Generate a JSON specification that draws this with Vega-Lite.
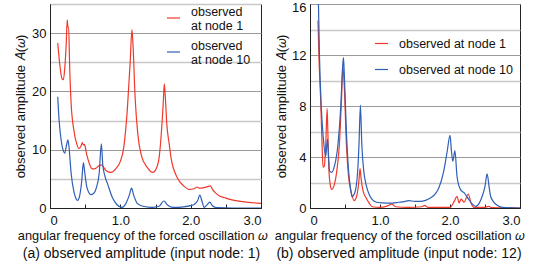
{
  "$schema": "https://vega.github.io/schema/vega-lite/v6.json",
  "padding": {"left": 14, "top": 1, "right": 0, "bottom": 0},
  "config": {
    "font": "Liberation Sans",
    "view": {"stroke": "#222", "strokeWidth": 1},
    "axis": {"labelFont": "Liberation Sans", "titleFont": "Liberation Sans", "labelFontSize": 13, "titleFontSize": 13, "titleFontWeight": "normal", "labelColor": "#111", "titleColor": "#111", "domainColor": "#222"},
    "legend": {"labelFont": "Liberation Sans", "labelFontSize": 12.5, "labelColor": "#111"},
    "title": {"font": "Liberation Sans", "fontSize": 14, "fontWeight": "normal", "color": "#111"}
  },
  "datasets": {
    "a": [
      {"s": "n1", "w": 0.11, "A": 28.3}, {"s": "n1", "w": 0.14, "A": 24.5}, {"s": "n1", "w": 0.17, "A": 22.2}, {"s": "n1", "w": 0.19, "A": 22.0}, {"s": "n1", "w": 0.21, "A": 24.0}, {"s": "n1", "w": 0.23, "A": 28.0}, {"s": "n1", "w": 0.245, "A": 32.3}, {"s": "n1", "w": 0.255, "A": 31.0}, {"s": "n1", "w": 0.265, "A": 31.0}, {"s": "n1", "w": 0.28, "A": 24.0}, {"s": "n1", "w": 0.3, "A": 18.0}, {"s": "n1", "w": 0.34, "A": 13.3}, {"s": "n1", "w": 0.38, "A": 11.0}, {"s": "n1", "w": 0.41, "A": 10.2}, {"s": "n1", "w": 0.44, "A": 10.6}, {"s": "n1", "w": 0.46, "A": 11.2}, {"s": "n1", "w": 0.475, "A": 10.8}, {"s": "n1", "w": 0.49, "A": 10.9}, {"s": "n1", "w": 0.52, "A": 9.3}, {"s": "n1", "w": 0.56, "A": 7.6}, {"s": "n1", "w": 0.6, "A": 6.7}, {"s": "n1", "w": 0.65, "A": 6.8}, {"s": "n1", "w": 0.7, "A": 7.3}, {"s": "n1", "w": 0.73, "A": 7.4}, {"s": "n1", "w": 0.76, "A": 7.0}, {"s": "n1", "w": 0.8, "A": 6.4}, {"s": "n1", "w": 0.865, "A": 6.1}, {"s": "n1", "w": 0.94, "A": 6.8}, {"s": "n1", "w": 1.0, "A": 8.0}, {"s": "n1", "w": 1.05, "A": 10.5}, {"s": "n1", "w": 1.1, "A": 17.0}, {"s": "n1", "w": 1.14, "A": 25.0}, {"s": "n1", "w": 1.165, "A": 30.6}, {"s": "n1", "w": 1.18, "A": 28.0}, {"s": "n1", "w": 1.21, "A": 19.0}, {"s": "n1", "w": 1.25, "A": 12.5}, {"s": "n1", "w": 1.3, "A": 9.0}, {"s": "n1", "w": 1.38, "A": 7.0}, {"s": "n1", "w": 1.46, "A": 6.1}, {"s": "n1", "w": 1.5, "A": 6.5}, {"s": "n1", "w": 1.55, "A": 8.5}, {"s": "n1", "w": 1.58, "A": 12.4}, {"s": "n1", "w": 1.61, "A": 18.0}, {"s": "n1", "w": 1.625, "A": 21.3}, {"s": "n1", "w": 1.64, "A": 19.0}, {"s": "n1", "w": 1.66, "A": 14.5}, {"s": "n1", "w": 1.695, "A": 11.0}, {"s": "n1", "w": 1.72, "A": 8.7}, {"s": "n1", "w": 1.81, "A": 5.2}, {"s": "n1", "w": 1.9, "A": 3.8}, {"s": "n1", "w": 1.98, "A": 3.2}, {"s": "n1", "w": 2.05, "A": 3.3}, {"s": "n1", "w": 2.09, "A": 3.6}, {"s": "n1", "w": 2.12, "A": 3.4}, {"s": "n1", "w": 2.19, "A": 3.5}, {"s": "n1", "w": 2.25, "A": 3.7}, {"s": "n1", "w": 2.28, "A": 3.8}, {"s": "n1", "w": 2.31, "A": 3.2}, {"s": "n1", "w": 2.38, "A": 2.3}, {"s": "n1", "w": 2.5, "A": 1.7}, {"s": "n1", "w": 2.62, "A": 1.3}, {"s": "n1", "w": 2.8, "A": 1.0}, {"s": "n1", "w": 3.0, "A": 0.8},
      {"s": "n10", "w": 0.11, "A": 19.1}, {"s": "n10", "w": 0.13, "A": 15.0}, {"s": "n10", "w": 0.16, "A": 11.5}, {"s": "n10", "w": 0.19, "A": 9.8}, {"s": "n10", "w": 0.21, "A": 9.4}, {"s": "n10", "w": 0.23, "A": 10.5}, {"s": "n10", "w": 0.255, "A": 11.7}, {"s": "n10", "w": 0.27, "A": 10.5}, {"s": "n10", "w": 0.3, "A": 6.0}, {"s": "n10", "w": 0.34, "A": 2.8}, {"s": "n10", "w": 0.37, "A": 1.6}, {"s": "n10", "w": 0.39, "A": 1.3}, {"s": "n10", "w": 0.42, "A": 2.0}, {"s": "n10", "w": 0.45, "A": 4.5}, {"s": "n10", "w": 0.475, "A": 7.8}, {"s": "n10", "w": 0.49, "A": 6.5}, {"s": "n10", "w": 0.52, "A": 3.8}, {"s": "n10", "w": 0.55, "A": 2.7}, {"s": "n10", "w": 0.58, "A": 2.3}, {"s": "n10", "w": 0.62, "A": 2.5}, {"s": "n10", "w": 0.66, "A": 3.5}, {"s": "n10", "w": 0.7, "A": 6.0}, {"s": "n10", "w": 0.73, "A": 11.0}, {"s": "n10", "w": 0.75, "A": 7.5}, {"s": "n10", "w": 0.78, "A": 5.5}, {"s": "n10", "w": 0.82, "A": 4.1}, {"s": "n10", "w": 0.89, "A": 1.7}, {"s": "n10", "w": 0.95, "A": 0.6}, {"s": "n10", "w": 1.02, "A": 0.1}, {"s": "n10", "w": 1.08, "A": 0.8}, {"s": "n10", "w": 1.13, "A": 2.3}, {"s": "n10", "w": 1.16, "A": 3.4}, {"s": "n10", "w": 1.19, "A": 2.2}, {"s": "n10", "w": 1.24, "A": 0.8}, {"s": "n10", "w": 1.32, "A": 0.3}, {"s": "n10", "w": 1.45, "A": 0.1}, {"s": "n10", "w": 1.55, "A": 0.3}, {"s": "n10", "w": 1.62, "A": 1.2}, {"s": "n10", "w": 1.67, "A": 0.5}, {"s": "n10", "w": 1.75, "A": 0.1}, {"s": "n10", "w": 1.9, "A": 0.2}, {"s": "n10", "w": 2.0, "A": 0.4}, {"s": "n10", "w": 2.05, "A": 0.6}, {"s": "n10", "w": 2.1, "A": 1.3}, {"s": "n10", "w": 2.13, "A": 2.2}, {"s": "n10", "w": 2.16, "A": 1.2}, {"s": "n10", "w": 2.19, "A": 0.1}, {"s": "n10", "w": 2.23, "A": 0.5}, {"s": "n10", "w": 2.27, "A": 1.0}, {"s": "n10", "w": 2.31, "A": 0.4}, {"s": "n10", "w": 2.38, "A": 0.05}, {"s": "n10", "w": 2.6, "A": 0.0}, {"s": "n10", "w": 3.0, "A": 0.0}
    ],
    "b": [
      {"s": "n1", "w": 0.114, "A": 14.7}, {"s": "n1", "w": 0.13, "A": 11.5}, {"s": "n1", "w": 0.153, "A": 8.4}, {"s": "n1", "w": 0.175, "A": 4.5}, {"s": "n1", "w": 0.186, "A": 3.2}, {"s": "n1", "w": 0.205, "A": 3.3}, {"s": "n1", "w": 0.225, "A": 5.0}, {"s": "n1", "w": 0.245, "A": 7.8}, {"s": "n1", "w": 0.255, "A": 6.0}, {"s": "n1", "w": 0.27, "A": 3.0}, {"s": "n1", "w": 0.29, "A": 1.8}, {"s": "n1", "w": 0.31, "A": 1.45}, {"s": "n1", "w": 0.34, "A": 1.7}, {"s": "n1", "w": 0.38, "A": 2.8}, {"s": "n1", "w": 0.42, "A": 5.0}, {"s": "n1", "w": 0.45, "A": 8.5}, {"s": "n1", "w": 0.47, "A": 11.1}, {"s": "n1", "w": 0.49, "A": 9.5}, {"s": "n1", "w": 0.52, "A": 5.0}, {"s": "n1", "w": 0.55, "A": 2.5}, {"s": "n1", "w": 0.59, "A": 1.2}, {"s": "n1", "w": 0.63, "A": 0.58}, {"s": "n1", "w": 0.67, "A": 1.0}, {"s": "n1", "w": 0.7, "A": 2.2}, {"s": "n1", "w": 0.715, "A": 3.1}, {"s": "n1", "w": 0.73, "A": 2.3}, {"s": "n1", "w": 0.76, "A": 1.3}, {"s": "n1", "w": 0.8, "A": 0.8}, {"s": "n1", "w": 0.85, "A": 0.35}, {"s": "n1", "w": 0.89, "A": 0.1}, {"s": "n1", "w": 1.0, "A": 0.05}, {"s": "n1", "w": 1.1, "A": 0.15}, {"s": "n1", "w": 1.17, "A": 0.3}, {"s": "n1", "w": 1.22, "A": 0.1}, {"s": "n1", "w": 1.4, "A": 0.05}, {"s": "n1", "w": 1.6, "A": 0.1}, {"s": "n1", "w": 1.64, "A": 0.2}, {"s": "n1", "w": 1.68, "A": 0.05}, {"s": "n1", "w": 2.0, "A": 0.05}, {"s": "n1", "w": 2.06, "A": 0.52}, {"s": "n1", "w": 2.1, "A": 0.92}, {"s": "n1", "w": 2.13, "A": 0.4}, {"s": "n1", "w": 2.16, "A": 0.7}, {"s": "n1", "w": 2.2, "A": 0.45}, {"s": "n1", "w": 2.26, "A": 1.1}, {"s": "n1", "w": 2.3, "A": 0.4}, {"s": "n1", "w": 2.34, "A": 0.05}, {"s": "n1", "w": 2.5, "A": 0.05}, {"s": "n1", "w": 2.55, "A": 0.12}, {"s": "n1", "w": 2.6, "A": 0.03}, {"s": "n1", "w": 3.0, "A": 0.0},
      {"s": "n10", "w": 0.12, "A": 16.2}, {"s": "n10", "w": 0.135, "A": 12.0}, {"s": "n10", "w": 0.16, "A": 8.0}, {"s": "n10", "w": 0.19, "A": 5.5}, {"s": "n10", "w": 0.224, "A": 4.05}, {"s": "n10", "w": 0.25, "A": 5.4}, {"s": "n10", "w": 0.265, "A": 4.0}, {"s": "n10", "w": 0.28, "A": 2.9}, {"s": "n10", "w": 0.31, "A": 2.8}, {"s": "n10", "w": 0.35, "A": 3.3}, {"s": "n10", "w": 0.4, "A": 5.0}, {"s": "n10", "w": 0.44, "A": 8.0}, {"s": "n10", "w": 0.465, "A": 11.0}, {"s": "n10", "w": 0.478, "A": 11.8}, {"s": "n10", "w": 0.49, "A": 10.5}, {"s": "n10", "w": 0.52, "A": 6.0}, {"s": "n10", "w": 0.55, "A": 3.0}, {"s": "n10", "w": 0.58, "A": 1.5}, {"s": "n10", "w": 0.6, "A": 0.9}, {"s": "n10", "w": 0.64, "A": 1.2}, {"s": "n10", "w": 0.68, "A": 2.8}, {"s": "n10", "w": 0.7, "A": 5.0}, {"s": "n10", "w": 0.72, "A": 8.05}, {"s": "n10", "w": 0.74, "A": 5.0}, {"s": "n10", "w": 0.77, "A": 2.8}, {"s": "n10", "w": 0.8, "A": 1.85}, {"s": "n10", "w": 0.85, "A": 1.0}, {"s": "n10", "w": 0.89, "A": 0.65}, {"s": "n10", "w": 0.95, "A": 0.45}, {"s": "n10", "w": 1.03, "A": 0.4}, {"s": "n10", "w": 1.15, "A": 0.38}, {"s": "n10", "w": 1.27, "A": 0.45}, {"s": "n10", "w": 1.35, "A": 0.5}, {"s": "n10", "w": 1.41, "A": 0.58}, {"s": "n10", "w": 1.5, "A": 0.52}, {"s": "n10", "w": 1.58, "A": 0.52}, {"s": "n10", "w": 1.65, "A": 0.6}, {"s": "n10", "w": 1.72, "A": 0.78}, {"s": "n10", "w": 1.79, "A": 1.1}, {"s": "n10", "w": 1.84, "A": 1.57}, {"s": "n10", "w": 1.91, "A": 2.88}, {"s": "n10", "w": 1.96, "A": 4.45}, {"s": "n10", "w": 2.0, "A": 5.7}, {"s": "n10", "w": 2.02, "A": 4.5}, {"s": "n10", "w": 2.04, "A": 3.66}, {"s": "n10", "w": 2.07, "A": 4.5}, {"s": "n10", "w": 2.1, "A": 2.49}, {"s": "n10", "w": 2.15, "A": 1.44}, {"s": "n10", "w": 2.2, "A": 1.2}, {"s": "n10", "w": 2.27, "A": 0.66}, {"s": "n10", "w": 2.32, "A": 0.3}, {"s": "n10", "w": 2.37, "A": 0.13}, {"s": "n10", "w": 2.42, "A": 0.4}, {"s": "n10", "w": 2.46, "A": 0.92}, {"s": "n10", "w": 2.5, "A": 1.7}, {"s": "n10", "w": 2.53, "A": 2.67}, {"s": "n10", "w": 2.56, "A": 1.6}, {"s": "n10", "w": 2.58, "A": 0.92}, {"s": "n10", "w": 2.62, "A": 0.5}, {"s": "n10", "w": 2.68, "A": 0.2}, {"s": "n10", "w": 2.75, "A": 0.05}, {"s": "n10", "w": 3.0, "A": 0.0}
    ]
  },
  "hconcat": [
    {
      "width": 211, "height": 204,
      "data": {"name": "a"},
      "title": {"text": "(a) observed amplitude (input node: 1)", "orient": "bottom", "anchor": "middle", "offset": 5, "dx": -14},
      "mark": {"type": "line", "strokeWidth": 1.2, "clip": true, "interpolate": "monotone"},
      "encoding": {
        "x": {"field": "w", "type": "quantitative", "scale": {"domain": [0, 3], "nice": false},
              "axis": {"title": "angular frequency of the forced oscillation 𝜔", "titleFontSize": 12.8, "values": [0, 0.5, 1, 1.5, 2, 2.5, 3], "grid": false, "tickSize": -4, "tickColor": "#222", "labelPadding": 10, "labelExpr": "datum.value == 0 ? '0' : (datum.value % 1 == 0 ? format(datum.value, '.1f') : '')", "titleX": 92, "titleY": 31, "titleAlign": "center", "titleBaseline": "alphabetic"}},
        "y": {"field": "A", "type": "quantitative", "scale": {"domain": [0, 35], "nice": false},
              "axis": {"title": "observed amplitude 𝐴(𝜔)", "values": [0, 5, 10, 15, 20, 25, 30, 35], "ticks": false, "labelPadding": 4, "titlePadding": 4, "labelExpr": "datum.value % 10 == 0 ? datum.label : ''",
                       "gridColor": {"condition": {"test": "datum.value % 10 == 0", "value": "#9a9a9a"}, "value": "#c8c8c8"}, "gridWidth": {"condition": {"test": "datum.value % 10 == 0", "value": 1}, "value": 1.6}}},
        "color": {"field": "s", "type": "nominal", "scale": {"domain": ["n1", "n10"], "range": ["#f0392b", "#2f5fb5"]},
                  "legend": {"title": null, "orient": "none", "legendX": 116, "legendY": 0, "symbolType": "M-1,1L1,1", "symbolSize": 169, "symbolStrokeWidth": 1.2, "labelOffset": 10, "rowPadding": 5, "labelBaseline": "middle",
                             "labelExpr": "datum.value == 'n1' ? ['observed', '\u00a0at node 1'] : ['observed', '\u00a0at node 10']"}}
      }
    },
    {
      "width": 210, "height": 204,
      "data": {"name": "b"},
      "title": {"text": "(b) observed amplitude (input node: 12)", "orient": "bottom", "anchor": "middle", "offset": 5, "dx": -16},
      "mark": {"type": "line", "strokeWidth": 1.2, "clip": true, "interpolate": "monotone"},
      "encoding": {
        "x": {"field": "w", "type": "quantitative", "scale": {"domain": [0, 3], "nice": false},
              "axis": {"title": "angular frequency of the forced oscillation 𝜔", "titleFontSize": 12.8, "values": [0, 0.5, 1, 1.5, 2, 2.5, 3], "grid": false, "tickSize": -4, "tickColor": "#222", "labelPadding": 10, "labelExpr": "datum.value == 0 ? '0' : (datum.value % 1 == 0 ? format(datum.value, '.1f') : '')", "titleX": 89, "titleY": 31, "titleAlign": "center", "titleBaseline": "alphabetic"}},
        "y": {"field": "A", "type": "quantitative", "scale": {"domain": [0, 16], "nice": false},
              "axis": {"title": "observed amplitude 𝐴(𝜔)", "values": [0, 2, 4, 6, 8, 10, 12, 14, 16], "ticks": false, "labelPadding": 4, "titlePadding": 3, "labelExpr": "datum.value % 4 == 0 ? datum.label : ''",
                       "labelOffset": {"condition": {"test": "datum.value == 16", "value": 3.5}, "value": 0},
                       "gridColor": {"condition": {"test": "datum.value % 4 == 0", "value": "#9a9a9a"}, "value": "#c8c8c8"}, "gridWidth": {"condition": {"test": "datum.value % 4 == 0", "value": 1}, "value": 1.6}}},
        "color": {"field": "s", "type": "nominal", "scale": {"domain": ["n1", "n10"], "range": ["#f0392b", "#2f5fb5"]},
                  "legend": {"title": null, "orient": "none", "legendX": 64, "legendY": 32, "symbolType": "stroke", "symbolSize": 169, "symbolStrokeWidth": 1.2, "labelOffset": 10, "rowPadding": 12,
                             "labelExpr": "datum.value == 'n1' ? 'observed at node 1' : 'observed at node 10'"}}
      }
    }
  ],
  "spacing": 49,
  "bounds": "flush",
  "resolve": {"scale": {"color": "independent", "x": "independent", "y": "independent"}, "legend": {"color": "independent"}}
}
